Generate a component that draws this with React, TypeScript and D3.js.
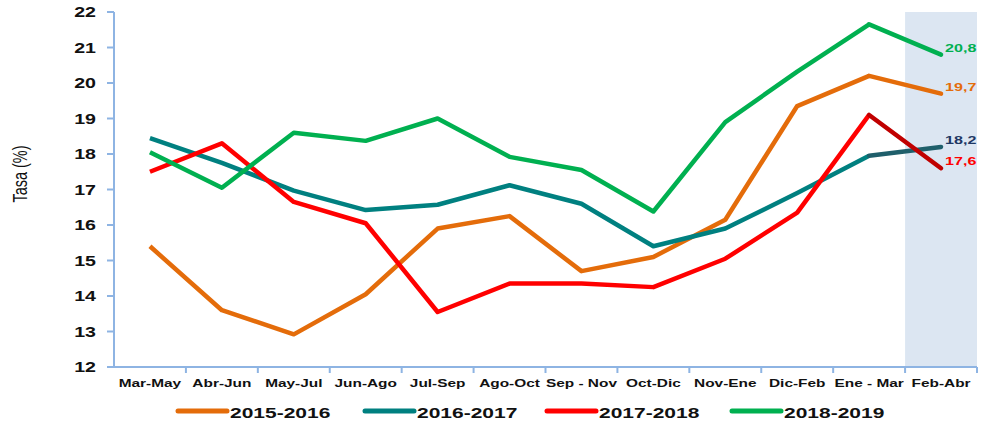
import React from 'react';
import * as d3 from 'd3';

const periods = ['Mar-May', 'Abr-Jun', 'May-Jul', 'Jun-Ago', 'Jul-Sep', 'Ago-Oct', 'Sep - Nov', 'Oct-Dic', 'Nov-Ene', 'Dic-Feb', 'Ene - Mar', 'Feb-Abr'];
const yTicks = [12, 13, 14, 15, 16, 17, 18, 19, 20, 21, 22];

const s2015 = [15.4, 13.6, 12.92, 14.05, 15.9, 16.25, 14.7, 15.1, 16.15, 19.35, 20.2, 19.7];
const s2016 = [18.45, 17.75, 16.97, 16.42, 16.57, 17.12, 16.6, 15.4, 15.9, 16.9, 17.95, 18.2];
const s2017 = [17.5, 18.3, 16.65, 16.05, 13.55, 14.35, 14.35, 14.25, 15.05, 16.35, 19.1, 17.6];
const s2018 = [18.05, 17.05, 18.6, 18.37, 19.0, 17.92, 17.55, 16.38, 18.9, 20.32, 21.65, 20.8];

const seriesNames = ['2015-2016', '2016-2017', '2017-2018', '2018-2019'];
const seriesData = [s2015, s2016, s2017, s2018];
const seriesColors = ['#E46C0A', '#008080', '#FF0000', '#00B050'];
// darker colour of the final segment (last period), as in the original
const lastSegColors = ['#E46C0A', '#1F5F6B', '#C00000', '#00B050'];
const labelColors = ['#E46C0A', '#1F3864', '#FF0000', '#00B050'];
const labelTexts = ['19,7', '18,2', '17,6', '20,8'];

const width = 982;
const height = 424;
const margin = { top: 12, right: 5, bottom: 57, left: 114 };
// the original's text is drawn wide, so every label is stretched horizontally
const stretch = 1.4;

export default function App() {
  const innerW = width - margin.left - margin.right;
  const innerH = height - margin.top - margin.bottom;

  const x = d3.scaleBand().domain(periods).range([0, innerW]);
  const y = d3.scaleLinear().domain([12, 22]).range([innerH, 0]);
  const cx = (p: string) => (x(p) || 0) + x.bandwidth() / 2;

  const line = d3.line<number>()
    .x((_, i) => cx(periods[i]))
    .y(d => y(d));

  const n = periods.length;
  const legendX = [178, 365, 547, 732];

  return (
    <svg width={width} height={height} style={{ position: 'absolute', left: 0, top: 0, fontFamily: '"Liberation Sans", Arial, sans-serif' }}>
      <rect width={width} height={height} fill="#fff" />
      <g transform={`translate(${margin.left},${margin.top})`}>
        {/* shaded last period */}
        <rect x={x(periods[n - 1]) || 0} y={0} width={x.bandwidth()} height={innerH} fill="#DCE6F2" />

        {/* axes */}
        <line x1={0} x2={0} y1={0} y2={innerH} stroke="#8EB4E3" strokeWidth={2} />
        <line x1={0} x2={innerW} y1={innerH} y2={innerH} stroke="#8EB4E3" strokeWidth={2} />
        {yTicks.map(t => (
          <g key={t}>
            <line x1={-7} x2={0} y1={y(t)} y2={y(t)} stroke="#8EB4E3" strokeWidth={2} />
            <text transform={`translate(-18,${y(t)}) scale(${stretch},1)`} dy="0.36em" textAnchor="end" fontSize={14} fontWeight="bold" fill="#111">{t}</text>
          </g>
        ))}
        {periods.map((p, i) => (
          <g key={p}>
            {i > 0 && <line x1={x(p) || 0} x2={x(p) || 0} y1={innerH} y2={innerH + 6} stroke="#8EB4E3" strokeWidth={2} />}
            <text transform={`translate(${cx(p)},${innerH + 20}) scale(${stretch},1)`} textAnchor="middle" fontSize={11} fontWeight="bold" fill="#111">{p}</text>
          </g>
        ))}
        {n > 0 && <line x1={innerW} x2={innerW} y1={innerH} y2={innerH + 6} stroke="#8EB4E3" strokeWidth={2} />}

        {/* series lines */}
        {seriesData.map((d, k) => (
          <g key={seriesNames[k]}>
            <path d={line(d.slice(0, n - 1)) || ''} fill="none" stroke={seriesColors[k]} strokeWidth={4.5} strokeLinejoin="round" />
            <path
              d={d3.line<number>().x((_, i) => cx(periods[n - 2 + i])).y(v => y(v))(d.slice(n - 2)) || ''}
              fill="none" stroke={lastSegColors[k]} strokeWidth={4.5} strokeLinecap="round" strokeLinejoin="round"
            />
            <text transform={`translate(${cx(periods[n - 1]) + 4},${y(d[n - 1]) - 3}) scale(${stretch},1)`} fontSize={11.5} fontWeight="bold" fill={labelColors[k]}>{labelTexts[k]}</text>
          </g>
        ))}
      </g>

      <text transform={`translate(27,174) rotate(-90) scale(1,${stretch})`} textAnchor="middle" fontSize={14.5} fill="#111">Tasa (%)</text>

      {/* legend */}
      {seriesNames.map((s, k) => (
        <g key={s} transform={`translate(${legendX[k]},411)`}>
          <line x1={0} x2={49} y1={0} y2={0} stroke={seriesColors[k]} strokeWidth={5} strokeLinecap="round" />
          <text transform={`translate(52,7) scale(${stretch},1)`} fontSize={15} fontWeight="bold" fill="#111">{s}</text>
        </g>
      ))}
    </svg>
  );
}
